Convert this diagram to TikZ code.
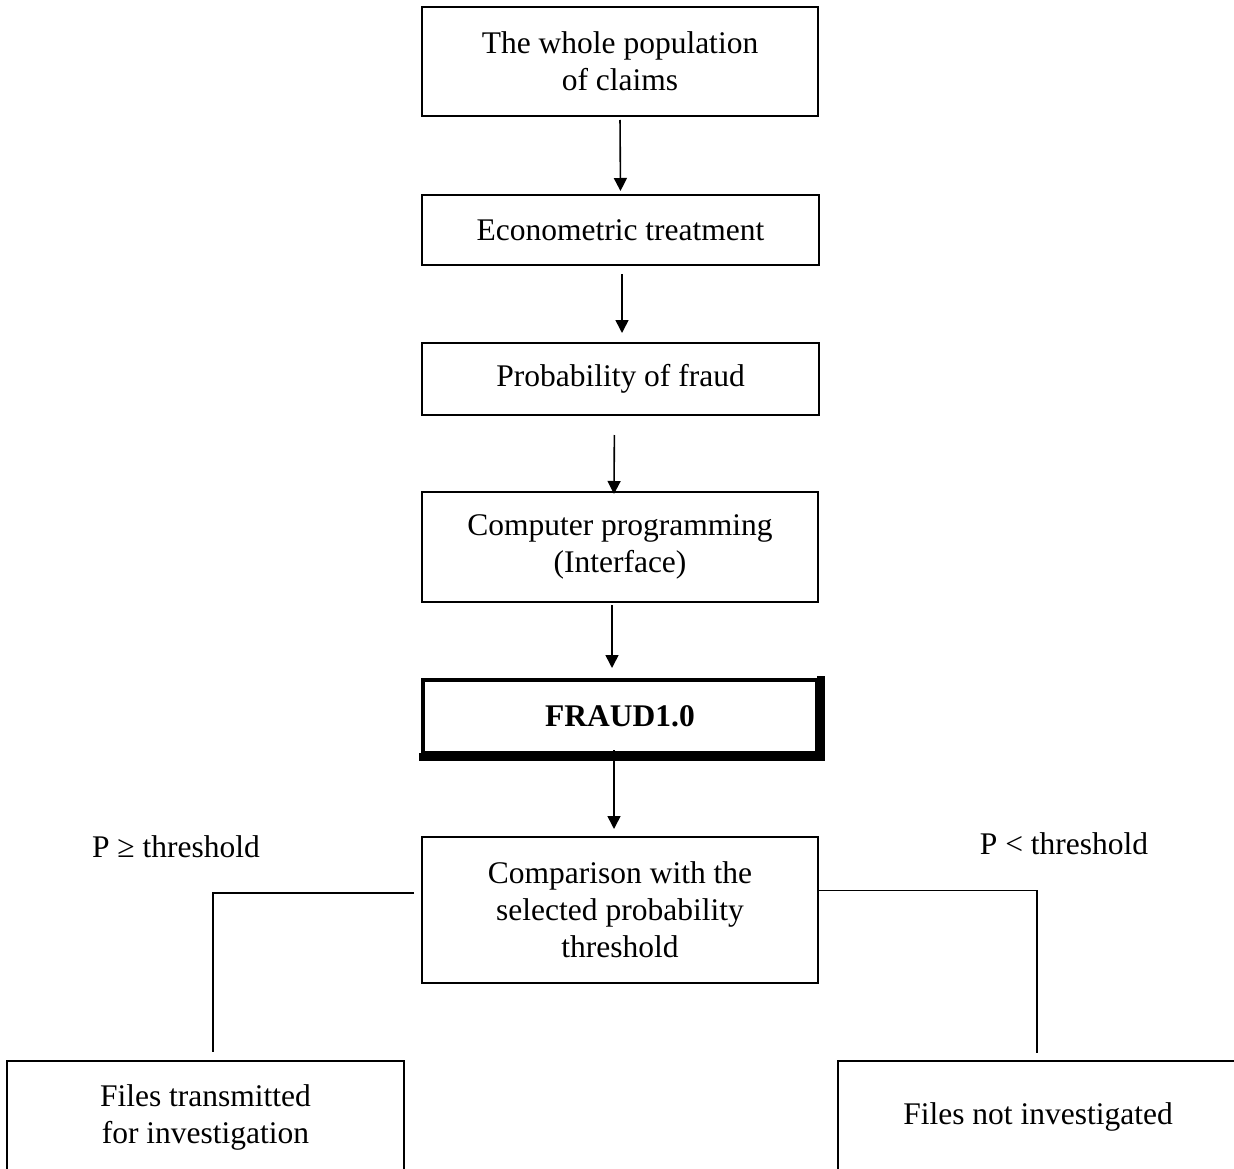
\documentclass[tikz,border=0pt]{standalone}
\usepackage{fontspec}
\setmainfont{Liberation Serif}
\usetikzlibrary{arrows.meta}
\begin{document}
\begin{tikzpicture}[x=1pt,y=-1pt,
  every node/.style={font=\fontsize{31.5}{37}\selectfont},
  box/.style={draw, line width=2pt, rectangle, align=center, inner sep=0pt},
  arr/.style={line width=1.6pt, -{Triangle[length=13pt,width=13pt]}},
  conn/.style={line width=1.6pt}]
\useasboundingbox (0,0) rectangle (1234,1169);
\clip (0,0) rectangle (1234,1169);

\node[box, minimum width=396pt, minimum height=109pt] (n1) at (620,61.5) {The whole population\\of claims};
\node[box, minimum width=397pt, minimum height=70pt] (n2) at (620.5,230) {Econometric treatment};
\node[box, minimum width=397pt, minimum height=72pt] (n3) at (620.5,379) {Probability of fraud};
\node[box, minimum width=396pt, minimum height=110pt] (n4) at (620,547) {Computer programming\\(Interface)};
\node[box, line width=4pt, minimum width=394pt, minimum height=73pt] (n5) at (620,716.5) {\bfseries FRAUD1.0};
\draw[line width=8pt] ([xshift=2pt,yshift=2pt]n5.north east) -- ([xshift=2pt,yshift=-2pt]n5.south east) -- ([xshift=-2pt,yshift=-2pt]n5.south west);
\node[box, minimum width=396pt, minimum height=146pt] (n6) at (620,910) {Comparison with the\\selected probability\\threshold};
\node[box, minimum width=397pt, minimum height=113pt] (n7) at (205.5,1117.5) {Files transmitted\\for investigation};
\node[box, minimum width=400pt, minimum height=111pt] (n8) at (1038,1116.5) {Files not investigated};

\node[anchor=base] (l1) at (176,857) {P ≥ threshold};
\node[anchor=base] (l2) at (1064,854) {P < threshold};

\draw[arr, shorten <=3pt, shorten >=3pt] (n1.south) -- (n2.north);
\draw[arr, shorten <=8pt, shorten >=9pt] ([xshift=1.5pt]n2.south) -- ([xshift=1.5pt]n3.north);
\draw[arr, shorten <=19pt, shorten >=-3pt] ([xshift=-6pt]n3.south) -- ([xshift=-6pt]n4.north);
\draw[arr, shorten <=2pt, shorten >=10pt] ([xshift=-8pt]n4.south) -- ([xshift=-8pt]n5.north);
\draw[arr, shorten <=-5pt, shorten >=7pt] ([xshift=-6pt]n5.south) -- ([xshift=-6pt]n6.north);

\draw[conn] ([xshift=-7pt,yshift=17pt]n6.west) -| ([xshift=7.5pt,yshift=8pt]n7.north);
\draw[conn] ([xshift=-2pt,yshift=19.5pt]n6.east) -| ([xshift=-1pt,yshift=7pt]n8.north);
\end{tikzpicture}
\end{document}
